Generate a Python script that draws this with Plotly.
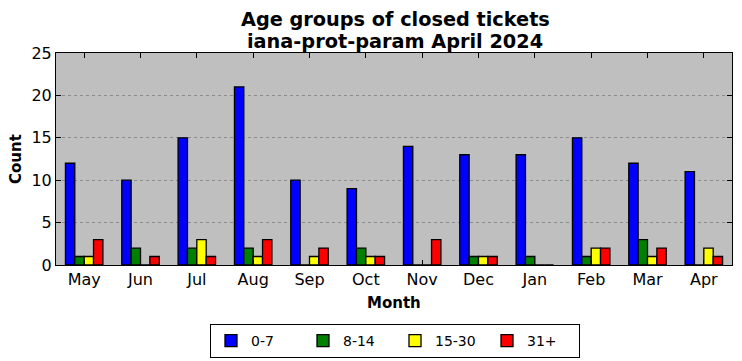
import plotly.graph_objects as go

months = ["May", "Jun", "Jul", "Aug", "Sep", "Oct", "Nov", "Dec", "Jan", "Feb", "Mar", "Apr"]
g0_7 = [12, 10, 15, 21, 10, 9, 14, 13, 13, 15, 12, 11]
g8_14 = [1, 2, 2, 2, 0, 2, 0, 1, 1, 1, 3, 0]
g15_30 = [1, 0, 3, 1, 1, 1, 0, 1, 0, 2, 1, 2]
g31p = [3, 1, 1, 3, 2, 1, 3, 1, 0, 2, 2, 1]

title_lines = ["Age groups of closed tickets", "iana-prot-param April 2024"]

series = [("0-7", g0_7, "#0000ff"), ("8-14", g8_14, "#008000"),
          ("15-30", g15_30, "#ffff00"), ("31+", g31p, "#ff0000")]

W, H = 742, 361
PL, PR, PT, PB = 56, 732, 53, 265  # plot area in pixels


def fx(pix):
    return pix / W


def fy(pix):
    return (H - pix) / H


fig = go.Figure()
for name, vals, col in series:
    fig.add_trace(go.Bar(x=months, y=vals, name=name,
                         marker=dict(color=col, line=dict(color="black", width=1.3))))

annotations = [
    dict(text="<b>%s</b>" % title_lines[0], xref="paper", yref="paper", x=fx(395), y=fy(19),
         xanchor="center", yanchor="middle", showarrow=False, font=dict(size=19.3)),
    dict(text="<b>%s</b>" % title_lines[1], xref="paper", yref="paper", x=fx(395), y=fy(41),
         xanchor="center", yanchor="middle", showarrow=False, font=dict(size=19.3)),
    dict(text="<b>Month</b>", xref="paper", yref="paper", x=fx(394), y=fy(303),
         xanchor="center", yanchor="middle", showarrow=False, font=dict(size=15)),
    dict(text="<b>Count</b>", xref="paper", yref="paper", x=fx(16), y=fy(159),
         xanchor="center", yanchor="middle", textangle=-90, showarrow=False, font=dict(size=15)),
]

fig.update_layout(
    width=W, height=H,
    margin=dict(l=0, r=0, t=0, b=0),
    paper_bgcolor="white", plot_bgcolor="#bfbfbf",
    barmode="group", bargap=0.335, bargroupgap=0,
    font=dict(family="DejaVu Sans", color="black", size=16),
    annotations=annotations,
    legend=dict(orientation="h", x=fx(395), xanchor="center", y=fy(324), yanchor="top",
                bordercolor="black", borderwidth=1, font=dict(size=14),
                itemwidth=30, entrywidth=47, traceorder="normal"),
    xaxis=dict(domain=[fx(PL), fx(PR)], showline=True, linecolor="black", linewidth=1, mirror="ticks",
               ticks="inside", ticklen=5, tickcolor="black", automargin=False),
    yaxis=dict(domain=[fy(PB), fy(PT)], range=[0, 25], dtick=5, automargin=False,
               showline=True, linecolor="black", linewidth=1, mirror="ticks",
               ticks="inside", ticklen=5, tickcolor="black",
               showgrid=True, gridcolor="#8c8c8c", griddash="dot", gridwidth=1,
               zeroline=False),
)
fig.write_html("out.html", config={"displayModeBar": False},
               post_script="document.body.style.margin='0';")
